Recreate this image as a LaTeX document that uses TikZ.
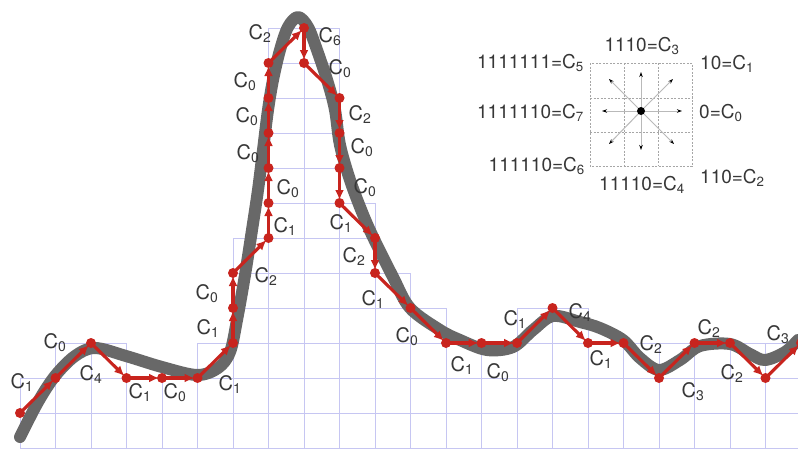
\documentclass[tikz,border=0pt]{standalone}
\usepackage{fontspec}
\setmainfont{TeX Gyre Heros}
\usetikzlibrary{arrows.meta,calc}
\definecolor{redc}{RGB}{200,36,30}
\definecolor{grayc}{RGB}{104,104,104}
\definecolor{gridc}{RGB}{198,198,242}
\definecolor{txtc}{RGB}{55,55,55}
\newcommand\chc[1]{C\textsubscript{#1}}
\begin{document}
\begin{tikzpicture}[x=1pt,y=-1pt,
 gridline/.style={draw=gridc,line width=0.7pt},
 curve/.style={draw=grayc,line width=12pt,line cap=round,line join=round},
 chainseg/.style={draw=redc,line width=3.1pt,line cap=round,-{Latex[length=10pt,width=9pt]},shorten >=3pt},
 dot/.style={fill=redc},
 lbl/.style={text=txtc,font=\fontsize{20}{24}\selectfont,anchor=base,inner sep=0pt,yshift=-7pt},
 leg/.style={text=txtc,font=\fontsize{19}{23}\selectfont,inner sep=0pt},
 legbox/.style={draw=gray!70,line width=0.6pt,dash pattern=on 2pt off 1.5pt},
 legarrow/.style={draw=gray!55,line width=1pt,-{Stealth[length=5pt,width=3.5pt,color=black]}}
]
\useasboundingbox[fill=white] (0,0) rectangle (798,451);
% staircase grid
\foreach \i/\n in {0/2,1/3,2/3,3/2,4/2,5/3,6/6,7/12,8/12,9/7,10/5,11/4,12/3,13/3,14/4,15/4,16/3,17/3,18/3,19/3,20/3,21/3} {
  \pgfmathsetmacro\xa{20+35.5*\i}
  \pgfmathsetmacro\xb{\xa+35.5}
  \pgfmathsetmacro\yt{448-35*\n}
  \draw[gridline] (\xa,\yt) -- (\xa,448) (\xb,\yt) -- (\xb,448);
  \foreach \k in {0,...,\n} { \draw[gridline] (\xa,{448-35*\k}) -- (\xb,{448-35*\k}); }
}
% gray curve
\draw[curve] plot[smooth,tension=0.55] coordinates {(20,437) (38,402) (55,376) (75,356) (95,348) (126,356) (162,367) (197,375) (218,368) (230,352) (237,320) (245,275) (252,230) (258,190) (263,150) (268,110) (273,80) (280,50) (288,27) (298,17) (308,27) (317,50) (328,83) (335,110) (340,145) (350,180) (362,212) (373,237) (393,277) (410,308) (440,330) (460,340) (487,350) (513,347) (533,330) (553,316) (580,322) (600,328) (623,340) (640,358) (659,370) (680,360) (700,346) (730,344) (750,354) (765,360) (785,352) (798,340)};
% chain points
\foreach \n/\x/\y in {0/20/413,1/55.5/378,2/91/343,3/126.5/378,4/162/378,5/197.5/378,6/233/343,7/233/308,8/233/273,9/268.5/238,10/268.5/203,11/268.5/168,12/268.5/133,13/268.5/98,14/268.5/63,15/304/28,16/304/63,17/339.5/98,18/339.5/133,19/339.5/168,20/339.5/203,21/375/238,22/375/273,23/410.5/308,24/446/343,25/481.5/343,26/517/343,27/552.5/308,28/588/343,29/623.5/343,30/659/378,31/694.5/343,32/730/343,33/765.5/378,34/801/343}
  { \coordinate (p\n) at (\x,\y); }
\foreach \a [count=\b] in {0,...,33} { \draw[chainseg] (p\a) -- (p\b); }
\foreach \a in {0,...,34} { \fill[dot] (p\a) circle (5pt); }
% chain labels
\foreach \n/\x/\y/\c in {1/22/381/1,2/55/341/0,3/91/373/4,4/140/391/1,5/175/391/0,6/230/383/1,7/208/327/1,8/207/292/0,9/266/275/2,10/285/225/1,11/288/187/0,12/248/152/0,13/247/115/0,14/245/80/0,15/260/32/2,16/330/35/6,17/340/67/0,18/360/113/2,19/362/146/0,20/365/186/0,21/341/222/1,22/354/255/2,23/373/298/1,24/407/335/0,25/462/364/1,26/498/371/0,27/515/318/1,28/580/311/4,29/601/358/1,30/651/343/2,31/693/390/3,32/709/327/2,33/732/372/2,34/778/333/3}
  { \node[lbl] (l\n) at (\x,\y) {\chc{\c}}; }
% legend
\coordinate (lga) at (590,63);
\coordinate (lgb) at (692,166);
\draw[legbox] (lga) rectangle (lgb);
\draw[legbox] (624,63) -- (624,166) (658,63) -- (658,166) (590,98) -- (692,98) (590,132) -- (692,132);
\coordinate (lc) at (641,111);
\foreach \n/\dx/\dy in {0/41/0,1/32/-32,2/0/-39,3/-32/-32,4/-39/0,5/-32/33,6/0/39,7/33/33}
  { \coordinate (le\n) at ($(lc)+(\dx,\dy)$); }
\foreach \n in {0,...,7} { \draw[legarrow] (lc) -- (le\n); }
\fill[black] (lc) circle (4pt);
\node[leg,anchor=base] (t3) at (642,51.5) {1110=\chc{3}};
\node[leg,anchor=base east] (t5) at (584,68.5) {1111111=\chc{5}};
\node[leg,anchor=base west] (t1) at (700,69.5) {10=\chc{1}};
\node[leg,anchor=base east] (t7) at (584,118.5) {1111110=\chc{7}};
\node[leg,anchor=base west] (t0) at (699,118.5) {0=\chc{0}};
\node[leg,anchor=base east] (t6) at (585,171.5) {111110=\chc{6}};
\node[leg,anchor=base] (t4) at (642,190) {11110=\chc{4}};
\node[leg,anchor=base west] (t2) at (700,183.5) {110=\chc{2}};
\end{tikzpicture}
\end{document}
